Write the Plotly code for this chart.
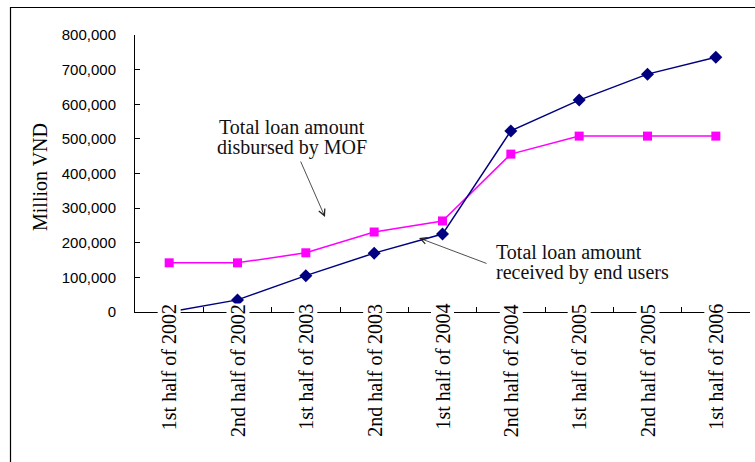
import plotly.graph_objects as go

categories = ["1st half of 2002", "2nd half of 2002", "1st half of 2003", "2nd half of 2003",
              "1st half of 2004", "2nd half of 2004", "1st half of 2005", "2nd half of 2005",
              "1st half of 2006"]
mof_disbursed = [142000, 142000, 171000, 231000, 263000, 456000, 508000, 508000, 508000]
end_users = [0, 35000, 105000, 170000, 225000, 523000, 612000, 687000, 736000]

W, H = 755, 462
L, R, T, B = 135, 5, 35, 150
PW, PH = W - L - R, H - T - B

def px(x):
    return (x - L) / PW

def py(y):
    return (H - B - y) / PH

serif = "Liberation Serif, Times New Roman, serif"
sans = "Liberation Sans, Arial, sans-serif"

fig = go.Figure()
fig.add_trace(go.Scatter(x=categories, y=mof_disbursed, mode="lines+markers",
                         line=dict(color="#FF00FF", width=1.5),
                         marker=dict(symbol="square", size=9, color="#FF00FF"),
                         cliponaxis=False, name="Total loan amount disbursed by MOF"))
fig.add_trace(go.Scatter(x=categories, y=end_users, mode="lines+markers",
                         line=dict(color="#000080", width=1.5),
                         marker=dict(symbol="diamond", size=10, color="#000080"),
                         cliponaxis=False, name="Total loan amount received by end users"))

annotations = []
# category labels (white boxes over axis line)
for c in categories:
    annotations.append(dict(x=c, xref="x", y=py(303), yref="paper", text=c, showarrow=False,
                            textangle=-90, xanchor="center", yanchor="top",
                            bgcolor="white", borderpad=0,
                            font=dict(family=serif, size=20, color="black")))
# y-axis title
annotations.append(dict(x=px(40), y=py(177), xref="paper", yref="paper", text="Million VND",
                        showarrow=False, textangle=-90, xanchor="center", yanchor="middle",
                        font=dict(family=serif, size=20, color="black")))
# text callouts
for txt, x, y, anchor in [("Total loan amount", 292, 127, "center"),
                          ("disbursed by MOF", 292, 147, "center"),
                          ("Total loan amount", 494, 252, "left"),
                          ("received by end users", 494, 272, "left")]:
    annotations.append(dict(x=px(x), y=py(y), xref="paper", yref="paper", text=txt,
                            showarrow=False, xanchor=anchor, yanchor="middle",
                            font=dict(family=serif, size=20, color="#111111")))
# arrows
for (hx, hy, tx, ty) in [(325, 217, 300, 160), (419, 238, 488, 264)]:
    annotations.append(dict(x=px(hx), y=py(hy), xref="paper", yref="paper", text="",
                            showarrow=True, ax=tx - hx, ay=ty - hy, arrowhead=5,
                            arrowsize=1.6, arrowwidth=0.8, arrowcolor="#222222",
                            standoff=0, startstandoff=0))

fig.update_layout(
    width=W, height=H,
    margin=dict(l=L, r=R, t=T, b=B),
    paper_bgcolor="white", plot_bgcolor="white",
    showlegend=False,
    annotations=annotations,
    shapes=[dict(type="rect", xref="paper", yref="paper",
                 x0=px(10.5), x1=px(800), y0=py(520), y1=py(7.5),
                 line=dict(color="black", width=1.2), layer="below")],
    xaxis=dict(type="category", range=[-0.5, 8.5], showline=True, linecolor="black", linewidth=1,
               ticks="inside", tickson="boundaries", ticklen=5, tickcolor="black",
               showticklabels=False, showgrid=False, zeroline=False),
    yaxis=dict(range=[0, 800000], dtick=100000, tickformat=",", showline=True,
               linecolor="black", linewidth=1, ticks="inside", ticklen=5, tickcolor="black",
               ticklabelstandoff=15, showgrid=False, zeroline=False,
               tickfont=dict(family=sans, size=15, color="black")),
)

fig.write_html("out.html")
